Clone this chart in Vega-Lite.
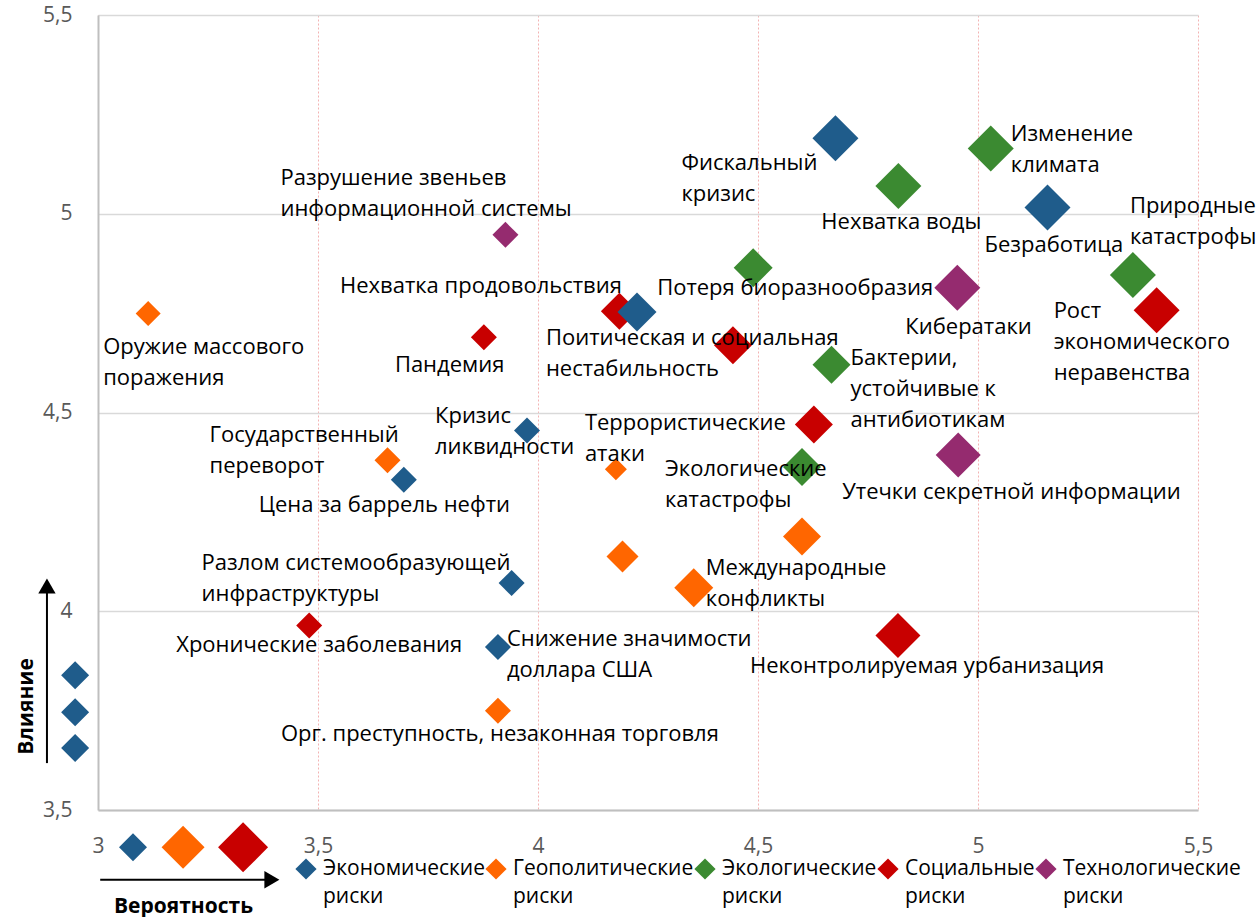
{
  "$schema": "https://vega.github.io/schema/vega-lite/v6.json",
  "autosize": "none",
  "width": 1100,
  "height": 795,
  "padding": {"left": 98, "top": 15, "right": 61, "bottom": 107},
  "background": "white",
  "config": {
    "view": {"stroke": null},
    "text": {"font": "Open Sans", "fontSize": 22, "baseline": "alphabetic", "lineBreak": "\n", "lineHeight": 31, "color": "#000000"},
    "style": {"guide-label": {"lineHeight": 28}}
  },
  "data": {"values": [
    {"name": "Фискальный кризис", "label": "Фискальный\nкризис", "cat": "Экономические риски", "x": 4.676, "y": 5.190, "w": 46},
    {"name": "Изменение климата", "label": "Изменение\nклимата", "cat": "Экологические риски", "x": 5.029, "y": 5.164, "w": 46},
    {"name": "Нехватка воды", "label": "Нехватка воды", "cat": "Экологические риски", "x": 4.819, "y": 5.070, "w": 46},
    {"name": "Безработица", "label": "Безработица", "cat": "Экономические риски", "x": 5.158, "y": 5.016, "w": 46},
    {"name": "Природные катастрофы", "label": "Природные\nкатастрофы", "cat": "Экологические риски", "x": 5.352, "y": 4.846, "w": 46},
    {"name": "Рост экономического неравенства", "label": "Рост\nэкономического\nнеравенства", "cat": "Социальные риски", "x": 5.406, "y": 4.757, "w": 46},
    {"name": "Кибератаки", "label": "Кибератаки", "cat": "Технологические риски", "x": 4.953, "y": 4.814, "w": 46},
    {"name": "Потеря биоразнообразия", "label": "Потеря биоразнообразия", "cat": "Экологические риски", "x": 4.489, "y": 4.864, "w": 39},
    {"name": "Нехватка продовольствия", "label": "Нехватка продовольствия", "cat": "Социальные риски", "x": 4.185, "y": 4.755, "w": 37},
    {"name": "Экономический риск 1", "label": "", "cat": "Экономические риски", "x": 4.225, "y": 4.753, "w": 39},
    {"name": "Поитическая и социальная нестабильность", "label": "Поитическая и социальная\nнестабильность", "cat": "Социальные риски", "x": 4.443, "y": 4.669, "w": 38},
    {"name": "Бактерии, устойчивые к антибиотикам", "label": "Бактерии,\nустойчивые к\nантибиотикам", "cat": "Экологические риски", "x": 4.667, "y": 4.620, "w": 38},
    {"name": "Социальный риск 1", "label": "", "cat": "Социальные риски", "x": 4.627, "y": 4.470, "w": 38},
    {"name": "Утечки секретной информации", "label": "Утечки секретной информации", "cat": "Технологические риски", "x": 4.955, "y": 4.393, "w": 45},
    {"name": "Экологические катастрофы", "label": "Экологические\nкатастрофы", "cat": "Экологические риски", "x": 4.600, "y": 4.363, "w": 38},
    {"name": "Террористические атаки", "label": "Террористические\nатаки", "cat": "Геополитические риски", "x": 4.177, "y": 4.357, "w": 22},
    {"name": "Геополитический риск 1", "label": "", "cat": "Геополитические риски", "x": 4.600, "y": 4.188, "w": 38},
    {"name": "Геополитический риск 2", "label": "", "cat": "Геополитические риски", "x": 4.192, "y": 4.138, "w": 32},
    {"name": "Международные конфликты", "label": "Международные\nконфликты", "cat": "Геополитические риски", "x": 4.354, "y": 4.059, "w": 39},
    {"name": "Неконтролируемая урбанизация", "label": "Неконтролируемая урбанизация", "cat": "Социальные риски", "x": 4.818, "y": 3.939, "w": 45},
    {"name": "Кризис ликвидности", "label": "Кризис\nликвидности", "cat": "Экономические риски", "x": 3.975, "y": 4.455, "w": 26},
    {"name": "Государственный переворот", "label": "Государственный\nпереворот", "cat": "Геополитические риски", "x": 3.658, "y": 4.380, "w": 26},
    {"name": "Цена за баррель нефти", "label": "Цена за баррель нефти", "cat": "Экономические риски", "x": 3.695, "y": 4.331, "w": 26},
    {"name": "Разлом системообразующей инфраструктуры", "label": "Разлом системообразующей\nинфраструктуры", "cat": "Экономические риски", "x": 3.940, "y": 4.071, "w": 26},
    {"name": "Хронические заболевания", "label": "Хронические заболевания", "cat": "Социальные риски", "x": 3.480, "y": 3.964, "w": 26},
    {"name": "Снижение значимости доллара США", "label": "Снижение значимости\nдоллара США", "cat": "Экономические риски", "x": 3.909, "y": 3.910, "w": 26},
    {"name": "Орг. преступность, незаконная торговля", "label": "Орг. преступность, незаконная торговля", "cat": "Геополитические риски", "x": 3.909, "y": 3.750, "w": 26},
    {"name": "Оружие массового поражения", "label": "Оружие массового\nпоражения", "cat": "Геополитические риски", "x": 3.114, "y": 4.749, "w": 25},
    {"name": "Пандемия", "label": "Пандемия", "cat": "Социальные риски", "x": 3.877, "y": 4.689, "w": 26},
    {"name": "Разрушение звеньев информационной системы", "label": "Разрушение звеньев\nинформационной системы", "cat": "Технологические риски", "x": 3.926, "y": 4.947, "w": 26}
  ]},
  "encoding": {
    "x": {"field": "x", "type": "quantitative",
      "scale": {"domain": [3, 5.5], "nice": false, "zero": false},
      "axis": {"values": [3, 3.5, 4, 4.5, 5, 5.5], "format": "~g", "labelExpr": "replace(datum.label, '.', ',')",
        "ticks": false, "labelPadding": 25, "labelFont": "Open Sans", "labelFontSize": 21, "labelColor": "#595959",
        "labelFlush": false, "labelOverlap": false, "domainColor": "#BFBFBF", "domainWidth": 2,
        "grid": true, "gridColor": "#F0A0A0", "gridDash": [2, 2], "gridWidth": 1, "gridOpacity": 0.8,
        "title": "Вероятность", "titleFont": "Open Sans", "titleFontSize": 21, "titleFontWeight": "bold", "titleColor": "#000000",
        "titleX": 85, "titleY": 102, "titleBaseline": "alphabetic", "titleAlign": "center", "titleAnchor": null}},
    "y": {"field": "y", "type": "quantitative",
      "scale": {"domain": [3.5, 5.5], "nice": false, "zero": false},
      "axis": {"values": [3.5, 4, 4.5, 5, 5.5], "format": "~g", "labelExpr": "replace(datum.label, '.', ',')",
        "ticks": false, "labelPadding": 26, "labelFont": "Open Sans", "labelFontSize": 21, "labelColor": "#595959",
        "labelFlush": false, "labelOverlap": false, "domainColor": "#BFBFBF", "domainWidth": 2,
        "grid": true, "gridColor": "#D9D9D9", "gridWidth": 1.5,
        "title": "Влияние", "titleFont": "Open Sans", "titleFontSize": 21, "titleFontWeight": "bold", "titleColor": "#000000",
        "titleAngle": -90, "titleX": -66, "titleY": 691, "titleBaseline": "alphabetic", "titleAlign": "center", "titleAnchor": null}}
  },
  "layer": [
    {
      "data": {"values": [
        {"x": 2.884, "y": 3.618, "x2": 2.884, "y2": 4.063},
        {"x": 3.005, "y": 3.3246, "x2": 3.395, "y2": 3.3246}
      ]},
      "mark": {"type": "rule", "color": "#000000", "strokeWidth": 2},
      "encoding": {"x2": {"field": "x2"}, "y2": {"field": "y2"}}
    },
    {
      "data": {"values": [
        {"x": 2.884, "y": 4.0633, "dir": "up"},
        {"x": 3.3952, "y": 3.3246, "dir": "right"}
      ]},
      "mark": {"type": "point", "filled": true, "color": "#000000", "opacity": 1, "size": 300},
      "encoding": {"shape": {"field": "dir", "type": "nominal", "scale": {"domain": ["up", "right"], "range": ["triangle-up", "triangle-right"]}, "legend": null}}
    },
    {
      "data": {"values": [
        {"x": 2.948, "y": 3.839, "cat": "Экономические риски", "w": 28},
        {"x": 2.948, "y": 3.746, "cat": "Экономические риски", "w": 28},
        {"x": 2.948, "y": 3.656, "cat": "Экономические риски", "w": 28},
        {"x": 3.0796, "y": 3.406, "cat": "Экономические риски", "w": 28},
        {"x": 3.1933, "y": 3.406, "cat": "Геополитические риски", "w": 43},
        {"x": 3.3297, "y": 3.406, "cat": "Социальные риски", "w": 50}
      ]},
      "mark": {"type": "point", "shape": "diamond", "filled": true, "opacity": 1, "strokeWidth": 0},
      "encoding": {
        "color": {"field": "cat", "type": "nominal",
          "scale": {"domain": ["Экономические риски", "Геополитические риски", "Экологические риски", "Социальные риски", "Технологические риски"],
                    "range": ["#1F5C8B", "#FF6600", "#3B8A31", "#C80000", "#952B6F"]},
          "legend": {"orient": "none", "legendX": 197, "legendY": 843, "direction": "horizontal", "columns": 5, "title": null,
            "symbolType": "diamond", "symbolSize": 450, "symbolStrokeWidth": 0, "labelFont": "Open Sans", "labelFontSize": 21,
            "labelColor": "#000000", "labelExpr": "split(datum.label, ' ')", "labelOffset": 6, "columnPadding": 0, "labelLimit": 300}},
        "size": {"field": "w", "type": "quantitative", "scale": {"type": "pow", "exponent": 2, "domain": [0, 50], "range": [0, 2500]}, "legend": null}
      }
    },
    {
      "mark": {"type": "point", "shape": "diamond", "filled": true, "opacity": 1, "strokeWidth": 0},
      "encoding": {
        "color": {"field": "cat", "type": "nominal",
          "scale": {"domain": ["Экономические риски", "Геополитические риски", "Экологические риски", "Социальные риски", "Технологические риски"],
                    "range": ["#1F5C8B", "#FF6600", "#3B8A31", "#C80000", "#952B6F"]},
          "legend": {"orient": "none", "legendX": 197, "legendY": 843, "direction": "horizontal", "columns": 5, "title": null,
            "symbolType": "diamond", "symbolSize": 450, "symbolStrokeWidth": 0, "labelFont": "Open Sans", "labelFontSize": 21,
            "labelColor": "#000000", "labelExpr": "split(datum.label, ' ')", "labelOffset": 6, "columnPadding": 0, "labelLimit": 300}},
        "size": {"field": "w", "type": "quantitative", "scale": {"type": "pow", "exponent": 2, "domain": [0, 50], "range": [0, 2500]}, "legend": null}
      }
    },
    {"transform": [{"filter": "datum.name == 'Фискальный кризис'"}], "mark": {"type": "text", "align": "left", "dx": -154, "dy": 32}, "encoding": {"text": {"field": "label"}}},
    {"transform": [{"filter": "datum.name == 'Изменение климата'"}], "mark": {"type": "text", "align": "left", "dx": 20, "dy": -8}, "encoding": {"text": {"field": "label"}}},
    {"transform": [{"filter": "datum.name == 'Нехватка воды'"}], "mark": {"type": "text", "align": "left", "dx": -77, "dy": 43}, "encoding": {"text": {"field": "label"}}},
    {"transform": [{"filter": "datum.name == 'Безработица'"}], "mark": {"type": "text", "align": "left", "dx": -63, "dy": 45}, "encoding": {"text": {"field": "label"}}},
    {"transform": [{"filter": "datum.name == 'Природные катастрофы'"}], "mark": {"type": "text", "align": "left", "dx": -3, "dy": -62}, "encoding": {"text": {"field": "label"}}},
    {"transform": [{"filter": "datum.name == 'Рост экономического неравенства'"}], "mark": {"type": "text", "align": "left", "dx": -103, "dy": 8}, "encoding": {"text": {"field": "label"}}},
    {"transform": [{"filter": "datum.name == 'Кибератаки'"}], "mark": {"type": "text", "align": "left", "dx": -52, "dy": 46}, "encoding": {"text": {"field": "label"}}},
    {"transform": [{"filter": "datum.name == 'Потеря биоразнообразия'"}], "mark": {"type": "text", "align": "left", "dx": -96, "dy": 27}, "encoding": {"text": {"field": "label"}}},
    {"transform": [{"filter": "datum.name == 'Нехватка продовольствия'"}], "mark": {"type": "text", "align": "right", "dx": 2.5, "dy": -18}, "encoding": {"text": {"field": "label"}}},
    {"transform": [{"filter": "datum.name == 'Поитическая и социальная нестабильность'"}], "mark": {"type": "text", "align": "left", "dx": -187, "dy": 0}, "encoding": {"text": {"field": "label"}}},
    {"transform": [{"filter": "datum.name == 'Бактерии, устойчивые к антибиотикам'"}], "mark": {"type": "text", "align": "left", "dx": 19, "dy": 0}, "encoding": {"text": {"field": "label"}}},
    {"transform": [{"filter": "datum.name == 'Утечки секретной информации'"}], "mark": {"type": "text", "align": "left", "dx": -116, "dy": 44}, "encoding": {"text": {"field": "label"}}},
    {"transform": [{"filter": "datum.name == 'Экологические катастрофы'"}], "mark": {"type": "text", "align": "left", "dx": -137, "dy": 9}, "encoding": {"text": {"field": "label"}}},
    {"transform": [{"filter": "datum.name == 'Террористические атаки'"}], "mark": {"type": "text", "align": "left", "dx": -31, "dy": -39}, "encoding": {"text": {"field": "label"}}},
    {"transform": [{"filter": "datum.name == 'Международные конфликты'"}], "mark": {"type": "text", "align": "left", "dx": 12, "dy": -13}, "encoding": {"text": {"field": "label"}}},
    {"transform": [{"filter": "datum.name == 'Неконтролируемая урбанизация'"}], "mark": {"type": "text", "align": "left", "dx": -148, "dy": 38}, "encoding": {"text": {"field": "label"}}},
    {"transform": [{"filter": "datum.name == 'Кризис ликвидности'"}], "mark": {"type": "text", "align": "left", "dx": -92, "dy": -7}, "encoding": {"text": {"field": "label"}}},
    {"transform": [{"filter": "datum.name == 'Государственный переворот'"}], "mark": {"type": "text", "align": "left", "dx": -178, "dy": -18}, "encoding": {"text": {"field": "label"}}},
    {"transform": [{"filter": "datum.name == 'Цена за баррель нефти'"}], "mark": {"type": "text", "align": "left", "dx": -145, "dy": 32}, "encoding": {"text": {"field": "label"}}},
    {"transform": [{"filter": "datum.name == 'Разлом системообразующей инфраструктуры'"}], "mark": {"type": "text", "align": "left", "dx": -310, "dy": -13}, "encoding": {"text": {"field": "label"}}},
    {"transform": [{"filter": "datum.name == 'Хронические заболевания'"}], "mark": {"type": "text", "align": "left", "dx": -133, "dy": 26}, "encoding": {"text": {"field": "label"}}},
    {"transform": [{"filter": "datum.name == 'Снижение значимости доллара США'"}], "mark": {"type": "text", "align": "left", "dx": 9, "dy": -1}, "encoding": {"text": {"field": "label"}}},
    {"transform": [{"filter": "datum.name == 'Орг. преступность, незаконная торговля'"}], "mark": {"type": "text", "align": "left", "dx": -217, "dy": 30}, "encoding": {"text": {"field": "label"}}},
    {"transform": [{"filter": "datum.name == 'Оружие массового поражения'"}], "mark": {"type": "text", "align": "left", "dx": -45, "dy": 40}, "encoding": {"text": {"field": "label"}}},
    {"transform": [{"filter": "datum.name == 'Пандемия'"}], "mark": {"type": "text", "align": "left", "dx": -89, "dy": 35}, "encoding": {"text": {"field": "label"}}},
    {"transform": [{"filter": "datum.name == 'Разрушение звеньев информационной системы'"}], "mark": {"type": "text", "align": "left", "dx": -225, "dy": -50}, "encoding": {"text": {"field": "label"}}}
  ]
}
